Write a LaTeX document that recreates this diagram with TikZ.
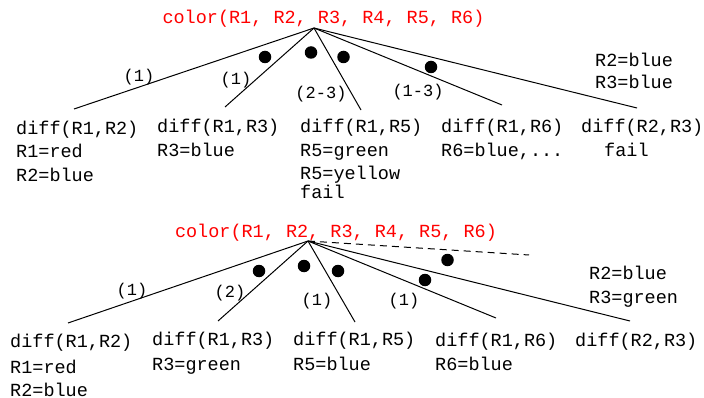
\documentclass[tikz,border=0pt]{standalone}
\usepackage{fontspec}
\setmainfont{Liberation Mono}
\begin{document}
\begin{tikzpicture}[x=1pt,y=-1pt,
  txt/.style={inner sep=0pt,anchor=base west,font=\fontsize{18.5}{20}\selectfont},
  ttl/.style={inner sep=0pt,text=red,font=\fontsize{18.5}{20}\selectfont},
  lbl/.style={inner sep=0pt,font=\fontsize{17}{19}\selectfont},
  edge/.style={line width=1pt},
  dashedge/.style={line width=1pt,dash pattern=on 7pt off 5pt},
  dot/.style={circle,fill=black,inner sep=0pt,minimum size=12.5pt}]
\useasboundingbox (0,0) rectangle (704,398);

% ---------- top tree ----------
\node[ttl] (t1) at (323.5,18.5) {color(R1, R2, R3, R4, R5, R6)};
\coordinate (a1) at (314,28);
\coordinate (a1e1) at (74,109);
\coordinate (a1e2) at (225,107);
\coordinate (a1e3) at (361,110);
\coordinate (a1e4) at (502,105);
\coordinate (a1e5) at (637,108);
\draw[edge] (a1) -- (a1e1);
\draw[edge] (a1) -- (a1e2);
\draw[edge] (a1) -- (a1e3);
\draw[edge] (a1) -- (a1e4);
\draw[edge] (a1) -- (a1e5);
\node[dot] (d11) at (265,57) {};
\node[dot] (d12) at (311,52.5) {};
\node[dot] (d13) at (343.5,57) {};
\node[dot] (d14) at (431,67) {};
\node[lbl] (l11) at (139,77.5) {(1)};
\node[lbl] (l12) at (236,80) {(1)};
\node[lbl] (l13) at (321,94) {(2-3)};
\node[lbl] (l14) at (418,92) {(1-3)};
\node[txt] (r11) at (595,67) {R2=blue};
\node[txt] (r12) at (595,89) {R3=blue};

\node[txt] (n11) at (16,135) {diff(R1,R2)};
\node[txt] (n11a) at (16,158) {R1=red};
\node[txt] (n11b) at (16,182) {R2=blue};
\node[txt] (n12) at (157,133) {diff(R1,R3)};
\node[txt] (n12a) at (157,157) {R3=blue};
\node[txt] (n13) at (300,133) {diff(R1,R5)};
\node[txt] (n13a) at (300,157) {R5=green};
\node[txt] (n13b) at (300,180) {R5=yellow};
\node[txt] (n13c) at (300,199) {fail};
\node[txt] (n14) at (441,133) {diff(R1,R6)};
\node[txt] (n14a) at (441,157) {R6=blue,...};
\node[txt] (n15) at (581,133) {diff(R2,R3)};
\node[txt] (n15a) at (604,157) {fail};

% ---------- bottom tree ----------
\node[ttl] (t2) at (336,232.5) {color(R1, R2, R3, R4, R5, R6)};
\coordinate (a2) at (308,241);
\coordinate (a2e1) at (68,323);
\coordinate (a2e2) at (218,321);
\coordinate (a2e3) at (355,322);
\coordinate (a2e4) at (496,318);
\coordinate (a2e5) at (630,321);
\coordinate (a2d) at (529,255);
\draw[edge] (a2) -- (a2e1);
\draw[edge] (a2) -- (a2e2);
\draw[edge] (a2) -- (a2e3);
\draw[edge] (a2) -- (a2e4);
\draw[edge] (a2) -- (a2e5);
\draw[dashedge] (a2) -- (a2d);
\node[dot] (d21) at (259,271) {};
\node[dot] (d22) at (304,266) {};
\node[dot] (d23) at (338,271) {};
\node[dot] (d24) at (425,280) {};
\node[dot] (d25) at (447.5,260) {};
\node[lbl] (l21) at (132,291) {(1)};
\node[lbl] (l22) at (230,293) {(2)};
\node[lbl] (l23) at (317,301) {(1)};
\node[lbl] (l24) at (404,301) {(1)};
\node[txt] (r21) at (589,279) {R2=blue};
\node[txt] (r22) at (589,303) {R3=green};

\node[txt] (n21) at (10,347) {diff(R1,R2)};
\node[txt] (n21a) at (10,373) {R1=red};
\node[txt] (n21b) at (10,396) {R2=blue};
\node[txt] (n22) at (152,345) {diff(R1,R3)};
\node[txt] (n22a) at (152,370) {R3=green};
\node[txt] (n23) at (293,345) {diff(R1,R5)};
\node[txt] (n23a) at (293,370) {R5=blue};
\node[txt] (n24) at (435,346) {diff(R1,R6)};
\node[txt] (n24a) at (435,370) {R6=blue};
\node[txt] (n25) at (575,346) {diff(R2,R3)};
\end{tikzpicture}
\end{document}
